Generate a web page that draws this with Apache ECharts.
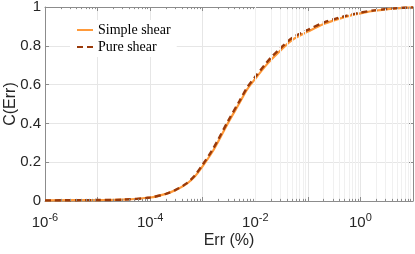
<!DOCTYPE html>
<html>
<head>
<meta charset="utf-8">
<script src="https://cdn.jsdelivr.net/npm/echarts@6/dist/echarts.min.js"></script>
<style>html,body{margin:0;padding:0;background:#fff;}#c{width:415px;height:254px;}</style>
</head>
<body>
<div id="c"></div>
<script>
// Data
const errValues   = [1e-6, 1e-5, 3e-5, 1e-4, 2e-4, 3e-4, 5e-4, 7e-4, 1e-3, 1.5e-3, 2e-3, 3e-3, 5e-3, 7e-3, 1e-2, 1.5e-2, 2e-2, 3e-2, 5e-2, 0.1, 0.2, 0.5, 1, 2, 5, 10];
const simpleShear = [0.003, 0.005, 0.007, 0.018, 0.037, 0.055, 0.09, 0.125, 0.18, 0.25, 0.31, 0.40, 0.505, 0.575, 0.63, 0.69, 0.728, 0.775, 0.83, 0.873, 0.912, 0.948, 0.967, 0.982, 0.993, 0.998];
const pureShear   = [0.003, 0.005, 0.007, 0.018, 0.037, 0.056, 0.092, 0.13, 0.188, 0.26, 0.32, 0.41, 0.515, 0.585, 0.64, 0.70, 0.74, 0.787, 0.84, 0.882, 0.92, 0.953, 0.971, 0.984, 0.994, 0.998];
const seriesNames = ['Simple shear', 'Pure shear'];
const labeledExponents = [-6, -4, -2, 0];
const minorMultipliers = [2, 3, 4, 5, 6, 7, 8, 9];
const decadeExponents = [-6, -5, -4, -3, -2, -1, 0];

const minorValues = [];
decadeExponents.forEach(e => minorMultipliers.forEach(m => minorValues.push(m * Math.pow(10, e))));

const minorGrid = minorValues.map(v => ({ xAxis: v }));
const minorTicks = [];
minorValues.forEach(v => {
  minorTicks.push([{ coord: [v, 0], lineStyle: { color: '#8c8c8c', width: 1, type: 'solid' } }, { coord: [v, 0.011] }]);
  minorTicks.push([{ coord: [v, 1], lineStyle: { color: '#8c8c8c', width: 1, type: 'solid' } }, { coord: [v, 0.989] }]);
});

const font = 'Liberation Sans, Arial, Helvetica, sans-serif';
const chart = echarts.init(document.getElementById('c'), null, { renderer: 'canvas' });

function xLabel(v) {
  const e = Math.round(Math.log10(v));
  if (labeledExponents.indexOf(e) < 0) return '';
  return '{b|10}{s|' + e + '}';
}

const xAxisBase = {
  type: 'log', logBase: 10, min: 1e-6, max: 10, interval: 1,
  axisLine: { show: true, onZero: false, lineStyle: { color: '#8c8c8c', width: 1 } },
  axisTick: { show: true, inside: true, length: 4, lineStyle: { color: '#8c8c8c' } },
};

chart.setOption({
  animation: false,
  backgroundColor: '#fff',
  grid: { left: 45, right: 2, top: 7, bottom: 53, show: false, containLabel: false, outerBoundsMode: 'none' },
  legend: {
    data: seriesNames,
    orient: 'vertical',
    left: 70, top: 20,
    backgroundColor: '#ffffff',
    padding: [3, 6, 3, 6],
    itemGap: 3,
    itemWidth: 16, itemHeight: 10,
    itemStyle: { opacity: 0, color: 'rgba(0,0,0,0)', borderWidth: 0 },
    textStyle: { fontFamily: 'Liberation Serif, Times New Roman, serif', fontSize: 14, color: '#000' }
  },
  xAxis: [
    Object.assign({}, xAxisBase, {
      position: 'bottom',
      name: 'Err (%)', nameLocation: 'middle', nameGap: 32, nameMoveOverlap: false,
      nameTextStyle: { fontFamily: font, fontSize: 16, color: '#262626' },
      splitLine: { show: true, lineStyle: { color: '#e6e6e6', width: 1 } },
      axisLabel: {
        formatter: xLabel, margin: 11, color: '#262626',
        rich: {
          b: { fontFamily: font, fontSize: 15, color: '#262626' },
          s: { fontFamily: font, fontSize: 11, color: '#262626', padding: [0, 0, 11, 0] }
        }
      }
    }),
    Object.assign({}, xAxisBase, {
      position: 'top',
      axisLabel: { show: false },
      splitLine: { show: false }
    })
  ],
  yAxis: [
    {
      type: 'value', min: 0, max: 1, interval: 0.2, position: 'left',
      name: 'C(Err)', nameLocation: 'middle', nameGap: 26, nameMoveOverlap: false,
      nameTextStyle: { fontFamily: font, fontSize: 16, color: '#262626' },
      axisLine: { show: true, lineStyle: { color: '#8c8c8c' } },
      axisTick: { show: true, inside: true, length: 4, lineStyle: { color: '#8c8c8c' } },
      axisLabel: { fontFamily: font, fontSize: 15, color: '#262626', margin: 4 },
      splitLine: { show: true, lineStyle: { color: '#e6e6e6', width: 1 } }
    },
    {
      type: 'value', min: 0, max: 1, interval: 0.2, position: 'right',
      axisLine: { show: true, lineStyle: { color: '#8c8c8c' } },
      axisTick: { show: true, inside: true, length: 4, lineStyle: { color: '#8c8c8c' } },
      axisLabel: { show: false },
      splitLine: { show: false }
    }
  ],
  series: [
    {
      name: 'minor', type: 'line', data: [], z: 1, silent: true,
      markLine: {
        silent: true, symbol: 'none', animation: false,
        label: { show: false },
        lineStyle: { color: '#f0f0f0', type: 'solid', width: 1 },
        emphasis: { disabled: true },
        data: minorGrid.concat(minorTicks)
      }
    },
    {
      name: seriesNames[0], type: 'line', z: 3,
      data: errValues.map((x, i) => [x, simpleShear[i]]),
      showSymbol: false, symbol: 'none', smooth: 0.3,
      lineStyle: { color: '#ff9a3a', width: 2.2, type: 'solid' },
      itemStyle: { color: '#ff9a3a' }
    },
    {
      name: seriesNames[1], type: 'line', z: 4,
      data: errValues.map((x, i) => [x, pureShear[i]]),
      showSymbol: false, symbol: 'none', smooth: 0.3,
      lineStyle: { color: '#9a3a0a', width: 2.4, type: [6, 4] },
      itemStyle: { color: '#9a3a0a' }
    }
  ]
});
</script>
</body>
</html>
